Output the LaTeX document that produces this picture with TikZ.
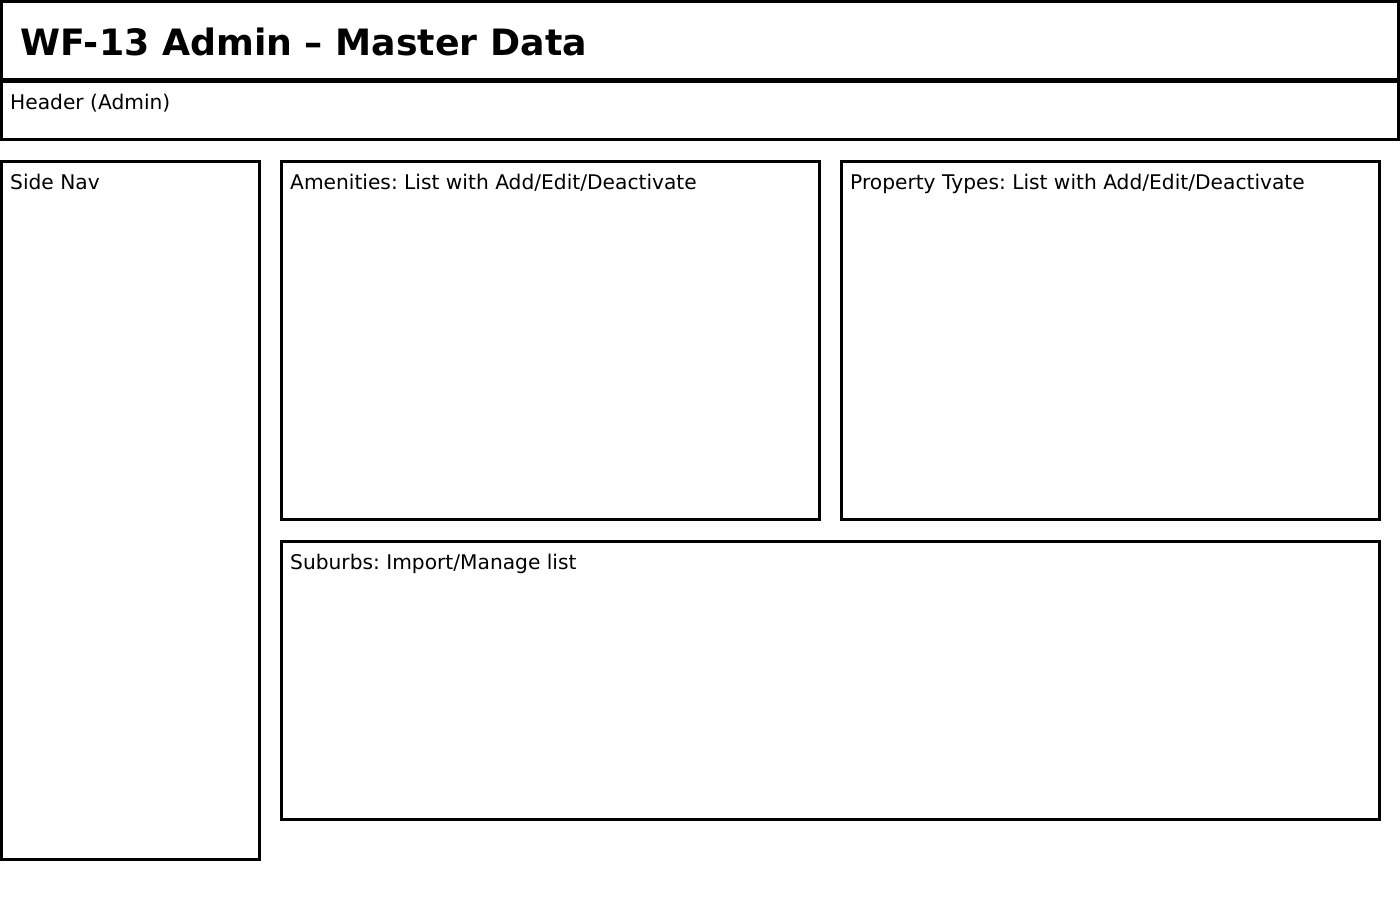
\documentclass[tikz,border=0pt]{standalone}
\usepackage{fontspec}
\setmainfont{DejaVu Sans}
\frenchspacing
\begin{document}
\frenchspacing
\begin{tikzpicture}[x=1pt,y=-1pt,
  box/.style={draw=black,line width=3pt,fill=white,rectangle,inner sep=0pt,outer sep=0pt,anchor=north west},
  lbl/.style={anchor=base west,inner sep=0pt,font=\fontsize{20.2}{24}\selectfont},
  ttl/.style={anchor=base west,inner sep=0pt,font=\fontsize{36.3}{42}\selectfont\bfseries}]
\useasboundingbox[fill=white] (0,0) rectangle (1400,900);
\node[box,minimum width=1397pt,minimum height=77.5pt] (title) at (1.5,1.5) {};
\node[box,minimum width=1397pt,minimum height=58pt] (header) at (1.5,81) {};
\node[box,minimum width=258pt,minimum height=697.5pt] (sidenav) at (1.5,161.5) {};
\node[box,minimum width=538pt,minimum height=357.5pt] (amen) at (281.5,161.5) {};
\node[box,minimum width=538pt,minimum height=357.5pt] (ptypes) at (841.5,161.5) {};
\node[box,minimum width=1098pt,minimum height=278pt] (suburbs) at (281.5,541) {};
\node[ttl] (titletext) at (20,55) {WF-13 Admin – Master Data};
\node[lbl] (headertext) at (10,109) {Header (Admin)};
\node[lbl] (sidenavtext) at (10,189) {Side Nav};
\node[lbl] (amentext) at (290,189) {Amenities: List with Add/Edit/Deactivate};
\node[lbl] (ptypestext) at (850,189) {Property Types: List with Add/Edit/Deactivate};
\node[lbl] (suburbstext) at (290,569) {Suburbs: Import/Manage list};
\end{tikzpicture}
\end{document}
